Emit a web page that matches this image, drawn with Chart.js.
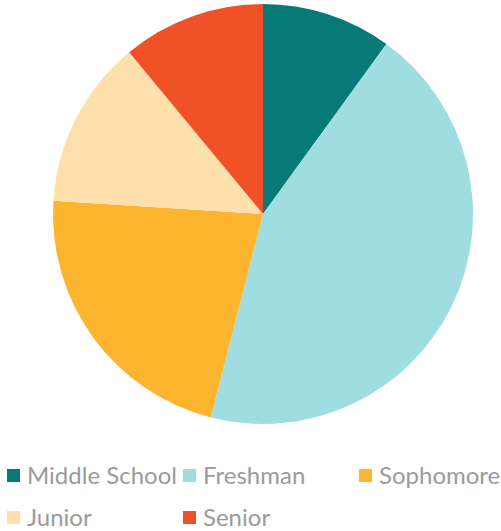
<!DOCTYPE html>
<html><head><meta charset="utf-8">
<script src="https://cdn.jsdelivr.net/npm/chart.js@4"></script>
<style>
html,body{margin:0;padding:0;background:#fff;overflow:hidden;}
#wrap{position:relative;width:501px;height:428px;}
#legend{display:grid;grid-template-columns:176px 176px 142px;padding-left:7px;margin-top:36px;row-gap:20px;font-family:Lato,sans-serif;font-size:24px;line-height:22px;color:#9b9b9b;}
.item{display:flex;align-items:center;height:22px;white-space:nowrap;}
.box{width:13px;height:13px;margin-right:7px;flex:none;}
</style></head><body>
<div id="wrap"><canvas id="c"></canvas></div>
<div id="legend"></div>
<script>
const categories = ["Middle School","Freshman","Sophomore","Junior","Senior"];
const values = [10, 44, 22, 13, 11];
const colors = ["#077a77","#a0dde0","#fdb52f","#fde0ac","#f15126"];
const chart = new Chart(document.getElementById('c'), {
  type: 'pie',
  data: { labels: categories, datasets: [{ data: values, backgroundColor: colors, borderWidth: 0 }] },
  options: {
    responsive: true, maintainAspectRatio: false, animation: false,
    layout: { padding: { left: 25, top: 4, bottom: 4, right: 0 } },
    plugins: { legend: { display: false }, tooltip: { enabled: false } }
  }
});
const leg = document.getElementById('legend');
Chart.overrides.pie.plugins.legend.labels.generateLabels(chart).forEach(l => {
  const d = document.createElement('div'); d.className = 'item';
  const b = document.createElement('span'); b.className = 'box'; b.style.background = l.fillStyle;
  const t = document.createElement('span'); t.textContent = l.text;
  d.appendChild(b); d.appendChild(t); leg.appendChild(d);
});
</script>
</body></html>
